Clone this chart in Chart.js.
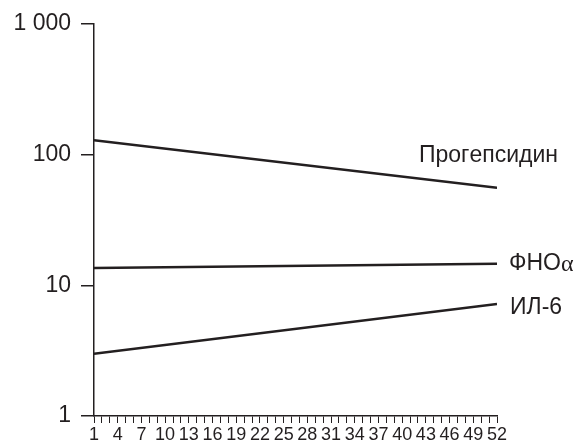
<!DOCTYPE html>
<html>
<head>
<meta charset="utf-8">
<script src="https://cdn.jsdelivr.net/npm/chart.js@4"></script>
<style>
html,body{margin:0;padding:0;background:#fff;}
#wrap{width:582px;height:444px;}
</style>
</head>
<body>
<div id="wrap"><canvas id="c" width="582" height="444"></canvas></div>
<script>
// Weeks (x) at the start and end of each line
const weeks = [1, 52];
// Series values (log scale)
const progepsidin = [129, 55.7];
const fnoAlpha = [13.6, 14.6];
const il6 = [3.0, 7.2];
// Series names
const seriesNames = ['Прогепсидин', 'ФНОα', 'ИЛ-6'];
// Tick labels
const yTickValues = [1, 10, 100, 1000];
const yTickLabels = ['1', '10', '100', '1 000'];
const xLabelEvery = 3;

const INK = '#231f20';
const FONT = "'Liberation Sans', Arial, Helvetica, sans-serif";
const SERIF = "'Liberation Serif', 'DejaVu Serif', serif";

function pts(vals){ return vals.map((v,i)=>({x: weeks[i], y: v})); }

const labelPlugin = {
  id: 'endLabels',
  afterDatasetsDraw(chart){
    const ctx = chart.ctx;
    ctx.save();
    ctx.fillStyle = INK;
    ctx.textBaseline = 'middle';
    ctx.textAlign = 'left';
    const offs = [[-78,-32],[12,0],[13,4]];
    chart.data.datasets.forEach((ds, i) => {
      const meta = chart.getDatasetMeta(i);
      const last = meta.data[meta.data.length-1];
      let x = last.x + offs[i][0];
      const y = last.y + offs[i][1];
      // Greek letters drawn in a serif face, as in the original
      for (const ch of ds.label) {
        const greek = /[\u0370-\u03ff]/.test(ch);
        ctx.font = greek ? ("24px " + SERIF) : ("23px " + FONT);
        ctx.fillText(ch, x, greek ? y + 1 : y);
        x += ctx.measureText(ch).width;
      }
    });
    ctx.restore();
  }
};

new Chart(document.getElementById('c'), {
  type: 'line',
  data: {
    datasets: [
      {label: seriesNames[0], data: pts(progepsidin)},
      {label: seriesNames[1], data: pts(fnoAlpha)},
      {label: seriesNames[2], data: pts(il6)}
    ].map(d => Object.assign(d, {
      borderColor: INK, borderWidth: 2.5, pointRadius: 0, tension: 0, fill: false
    }))
  },
  options: {
    responsive: false,
    animation: false,
    devicePixelRatio: 1,
    layout: {padding: {left: 0, right: 85, top: 24, bottom: 0}},
    plugins: {legend: {display: false}, tooltip: {enabled: false}},
    scales: {
      x: {
        type: 'linear',
        min: weeks[0], max: weeks[weeks.length-1],
        border: {display: true, color: INK, width: 1.5},
        grid: {display: true, drawOnChartArea: false, drawTicks: true, tickLength: 7, color: INK, lineWidth: 1},
        ticks: {
          stepSize: 1, maxTicksLimit: 200, autoSkip: false, maxRotation: 0, minRotation: 0,
          padding: 1, color: INK, font: {family: FONT, size: 18},
          callback: (v) => ((v - weeks[0]) % xLabelEvery === 0 ? String(v) : '')
        },
        afterFit: (s) => { s.height = 28; }
      },
      y: {
        type: 'logarithmic',
        min: yTickValues[0], max: yTickValues[yTickValues.length-1],
        border: {display: true, color: INK, width: 1.5},
        grid: {display: true, drawOnChartArea: false, drawTicks: true, tickLength: 13, color: INK, lineWidth: 1.5},
        afterBuildTicks: (s) => { s.ticks = yTickValues.map(v => ({value: v})); },
        ticks: {
          padding: 10, color: INK, font: {family: FONT, size: 23},
          callback: (v) => { const i = yTickValues.indexOf(v); return i >= 0 ? yTickLabels[i] : ''; }
        },
        afterFit: (s) => { s.width = 94; }
      }
    }
  },
  plugins: [labelPlugin]
});
</script>
</body>
</html>
